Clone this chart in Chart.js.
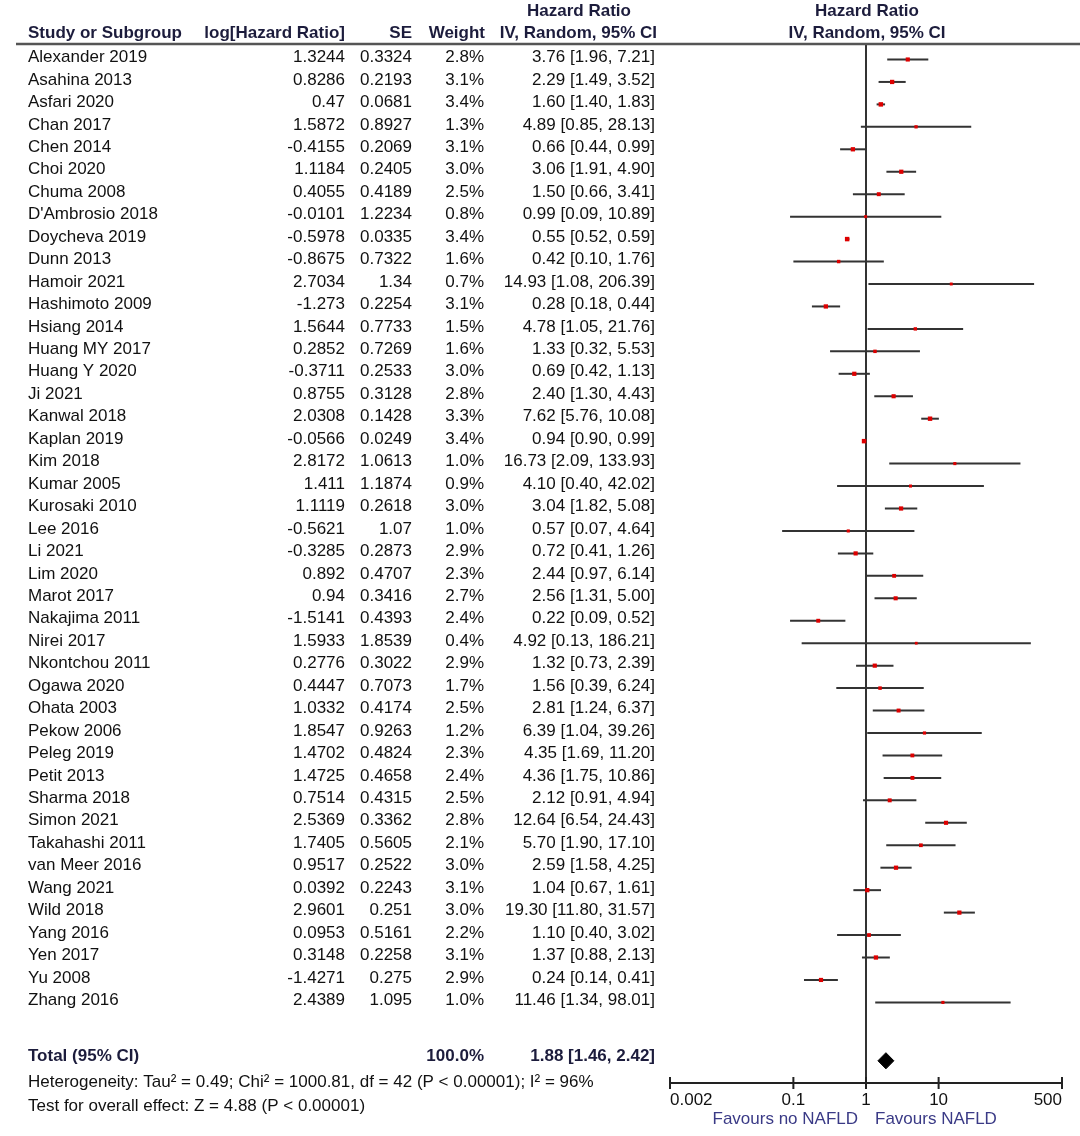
<!DOCTYPE html>
<html>
<head>
<meta charset="utf-8">
<script src="https://cdn.jsdelivr.net/npm/chart.js@4.4.1/dist/chart.umd.min.js"></script>
<style>
  body { margin: 0; background: #fff; }
  canvas { display: block; }
</style>
</head>
<body>
<canvas id="forest-plot" width="1080" height="1136"></canvas>
<script>
// 森林图数据
const studies = ['Alexander 2019', 'Asahina 2013', 'Asfari 2020', 'Chan 2017', 'Chen 2014', 'Choi 2020', 'Chuma 2008',
    "D'Ambrosio 2018", 'Doycheva 2019', 'Dunn 2013', 'Hamoir 2021', 'Hashimoto 2009', 'Hsiang 2014', 'Huang MY 2017',
    'Huang Y 2020', 'Ji 2021', 'Kanwal 2018', 'Kaplan 2019', 'Kim 2018', 'Kumar 2005', 'Kurosaki 2010', 'Lee 2016',
    'Li 2021', 'Lim 2020', 'Marot 2017', 'Nakajima 2011', 'Nirei 2017', 'Nkontchou 2011', 'Ogawa 2020', 'Ohata 2003',
    'Pekow 2006', 'Peleg 2019', 'Petit 2013', 'Sharma 2018', 'Simon 2021', 'Takahashi 2011', 'van Meer 2016',
    'Wang 2021', 'Wild 2018', 'Yang 2016', 'Yen 2017', 'Yu 2008', 'Zhang 2016'];
const logHR = [1.3244, 0.8286, 0.47, 1.5872, -0.4155, 1.1184, 0.4055, -0.0101, -0.5978, -0.8675, 2.7034, -1.273,
    1.5644, 0.2852, -0.3711, 0.8755, 2.0308, -0.0566, 2.8172, 1.411, 1.1119, -0.5621, -0.3285, 0.892, 0.94, -1.5141,
    1.5933, 0.2776, 0.4447, 1.0332, 1.8547, 1.4702, 1.4725, 0.7514, 2.5369, 1.7405, 0.9517, 0.0392, 2.9601, 0.0953,
    0.3148, -1.4271, 2.4389];
const se = [0.3324, 0.2193, 0.0681, 0.8927, 0.2069, 0.2405, 0.4189, 1.2234, 0.0335, 0.7322, 1.34, 0.2254, 0.7733,
    0.7269, 0.2533, 0.3128, 0.1428, 0.0249, 1.0613, 1.1874, 0.2618, 1.07, 0.2873, 0.4707, 0.3416, 0.4393, 1.8539,
    0.3022, 0.7073, 0.4174, 0.9263, 0.4824, 0.4658, 0.4315, 0.3362, 0.5605, 0.2522, 0.2243, 0.251, 0.5161, 0.2258,
    0.275, 1.095];
const weight = [2.8, 3.1, 3.4, 1.3, 3.1, 3.0, 2.5, 0.8, 3.4, 1.6, 0.7, 3.1, 1.5, 1.6, 3.0, 2.8, 3.3, 3.4, 1.0, 0.9,
    3.0, 1.0, 2.9, 2.3, 2.7, 2.4, 0.4, 2.9, 1.7, 2.5, 1.2, 2.3, 2.4, 2.5, 2.8, 2.1, 3.0, 3.1, 3.0, 2.2, 3.1, 2.9, 1.0];
const hr = [3.76, 2.29, 1.60, 4.89, 0.66, 3.06, 1.50, 0.99, 0.55, 0.42, 14.93, 0.28, 4.78, 1.33, 0.69, 2.40, 7.62,
    0.94, 16.73, 4.10, 3.04, 0.57, 0.72, 2.44, 2.56, 0.22, 4.92, 1.32, 1.56, 2.81, 6.39, 4.35, 4.36, 2.12, 12.64, 5.70,
    2.59, 1.04, 19.30, 1.10, 1.37, 0.24, 11.46];
const ciLow = [1.96, 1.49, 1.40, 0.85, 0.44, 1.91, 0.66, 0.09, 0.52, 0.10, 1.08, 0.18, 1.05, 0.32, 0.42, 1.30, 5.76,
    0.90, 2.09, 0.40, 1.82, 0.07, 0.41, 0.97, 1.31, 0.09, 0.13, 0.73, 0.39, 1.24, 1.04, 1.69, 1.75, 0.91, 6.54, 1.90,
    1.58, 0.67, 11.80, 0.40, 0.88, 0.14, 1.34];
const ciHigh = [7.21, 3.52, 1.83, 28.13, 0.99, 4.90, 3.41, 10.89, 0.59, 1.76, 206.39, 0.44, 21.76, 5.53, 1.13, 4.43,
    10.08, 0.99, 133.93, 42.02, 5.08, 4.64, 1.26, 6.14, 5.00, 0.52, 186.21, 2.39, 6.24, 6.37, 39.26, 11.20, 10.86, 4.94,
    24.43, 17.10, 4.25, 1.61, 31.57, 3.02, 2.13, 0.41, 98.01];
const totalEstimate = [1.46, 1.88, 2.42];   // 下限, 合并值, 上限
const axisTicks = [0.002, 0.1, 1, 10, 500];

const FONT = '"Liberation Sans", Arial, sans-serif';
const HEAD_COLOR = '#1c1c3c';
const ROW_TOTAL = 44.6;
const Y_MIN = -0.69;
const Y_MAX = 45.59;

function fmtCI(v, lo, hi) {
    return v.toFixed(2) + ' [' + lo.toFixed(2) + ', ' + hi.toFixed(2) + ']';
}

// 置信区间横线
const whiskerSets = studies.map((s, i) => ({
    type: 'line',
    data: [{ x: ciLow[i], y: i }, { x: ciHigh[i], y: i }],
    borderColor: '#333',
    borderWidth: 2,
    pointRadius: 0,
    order: 2
}));

const markerSet = {
    type: 'scatter',
    data: hr.map((v, i) => ({ x: v, y: i })),
    pointStyle: 'rect',
    pointRadius: weight.map(w => 1.8 + w * 0.4),
    backgroundColor: '#dd0000',
    borderWidth: 0,
    order: 0
};

const nullLine = {
    type: 'line',
    data: [{ x: 1, y: Y_MIN }, { x: 1, y: Y_MAX }],
    borderColor: '#333',
    borderWidth: 2,
    pointRadius: 0,
    order: 3
};

const diamondSet = {
    type: 'line',
    data: [
        { x: totalEstimate[0], y: ROW_TOTAL },
        { x: totalEstimate[1], y: ROW_TOTAL - 0.36 },
        { x: totalEstimate[2], y: ROW_TOTAL },
        { x: totalEstimate[1], y: ROW_TOTAL + 0.36 },
        { x: totalEstimate[0], y: ROW_TOTAL }
    ],
    borderColor: '#000',
    backgroundColor: '#000',
    borderWidth: 1,
    fill: 'shape',
    pointRadius: 0,
    order: 1
};

// 表格文字与坐标轴
const tablePlugin = {
    id: 'forestTable',
    afterDraw(chart) {
        const ctx = chart.ctx;
        const xs = chart.scales.x;
        const ys = chart.scales.y;
        const area = chart.chartArea;
        ctx.save();

        // 表头
        ctx.fillStyle = HEAD_COLOR;
        ctx.font = 'bold 17px ' + FONT;
        ctx.textBaseline = 'middle';
        ctx.textAlign = 'center';
        ctx.fillText('Hazard Ratio', 579, 11);
        ctx.fillText('Hazard Ratio', 867, 11);
        ctx.fillText('IV, Random, 95% CI', 867, 33);
        ctx.textAlign = 'left';
        ctx.fillText('Study or Subgroup', 28, 33);
        ctx.textAlign = 'right';
        ctx.fillText('log[Hazard Ratio]', 345, 33);
        ctx.fillText('SE', 412, 33);
        ctx.fillText('Weight', 485, 33);
        ctx.fillText('IV, Random, 95% CI', 657, 33);

        ctx.strokeStyle = '#555';
        ctx.lineWidth = 2.5;
        ctx.beginPath();
        ctx.moveTo(16, area.top);
        ctx.lineTo(1080, area.top);
        ctx.stroke();

        // 各研究行
        ctx.fillStyle = '#111';
        ctx.font = '17px ' + FONT;
        studies.forEach((s, i) => {
            const y = ys.getPixelForValue(i) - 2;
            ctx.textAlign = 'left';
            ctx.fillText(s, 28, y);
            ctx.textAlign = 'right';
            ctx.fillText(String(logHR[i]), 345, y);
            ctx.fillText(String(se[i]), 412, y);
            ctx.fillText(weight[i].toFixed(1) + '%', 484, y);
            ctx.fillText(fmtCI(hr[i], ciLow[i], ciHigh[i]), 655, y);
        });

        // 合计
        const ty = ys.getPixelForValue(ROW_TOTAL) - 4;
        ctx.fillStyle = HEAD_COLOR;
        ctx.font = 'bold 17px ' + FONT;
        ctx.textAlign = 'left';
        ctx.fillText('Total (95% CI)', 28, ty);
        ctx.textAlign = 'right';
        ctx.fillText('100.0%', 484, ty);
        ctx.fillText(fmtCI(totalEstimate[1], totalEstimate[0], totalEstimate[2]), 655, ty);

        ctx.fillStyle = '#111';
        ctx.font = '17px ' + FONT;
        ctx.textAlign = 'left';
        ctx.fillText('Heterogeneity: Tau\u00b2 = 0.49; Chi\u00b2 = 1000.81, df = 42 (P < 0.00001); I\u00b2 = 96%', 28, 1082);
        ctx.fillText('Test for overall effect: Z = 4.88 (P < 0.00001)', 28, 1106);

        // x 轴
        const ay = area.bottom;
        ctx.strokeStyle = '#222';
        ctx.lineWidth = 2;
        ctx.beginPath();
        ctx.moveTo(xs.getPixelForValue(axisTicks[0]), ay);
        ctx.lineTo(xs.getPixelForValue(axisTicks[axisTicks.length - 1]), ay);
        axisTicks.forEach(t => {
            const px = xs.getPixelForValue(t);
            ctx.moveTo(px, ay - 6);
            ctx.lineTo(px, ay + 6);
        });
        ctx.stroke();

        ctx.fillStyle = '#111';
        axisTicks.forEach((t, k) => {
            const px = xs.getPixelForValue(t);
            ctx.textAlign = k === 0 ? 'left' : (k === axisTicks.length - 1 ? 'right' : 'center');
            ctx.fillText(String(t), px, ay + 17);
        });

        ctx.fillStyle = '#3a3a86';
        const p1 = xs.getPixelForValue(1);
        ctx.textAlign = 'right';
        ctx.fillText('Favours no NAFLD', p1 - 8, ay + 36);
        ctx.textAlign = 'left';
        ctx.fillText('Favours NAFLD', p1 + 9, ay + 36);

        ctx.restore();
    }
};

new Chart(document.getElementById('forest-plot'), {
    type: 'scatter',
    data: {
        datasets: [...whiskerSets, nullLine, diamondSet, markerSet]
    },
    options: {
        responsive: false,
        animation: false,
        events: [],
        layout: {
            padding: { left: 670, right: 18, top: 44, bottom: 53 }
        },
        scales: {
            x: {
                type: 'logarithmic',
                min: axisTicks[0],
                max: axisTicks[axisTicks.length - 1],
                display: false
            },
            y: {
                type: 'linear',
                reverse: true,
                min: Y_MIN,
                max: Y_MAX,
                display: false
            }
        },
        plugins: {
            legend: { display: false },
            tooltip: { enabled: false }
        }
    },
    plugins: [tablePlugin]
});
</script>
</body>
</html>
